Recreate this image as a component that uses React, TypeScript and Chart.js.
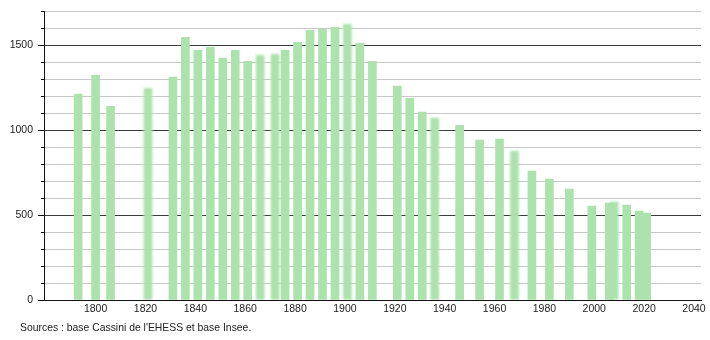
import React, { useEffect, useRef } from "react";
import { Chart, registerables } from "chart.js";

Chart.register(...registerables);

const years = [
  1793, 1800, 1806, 1821, 1831, 1836, 1841, 1846, 1851, 1856, 1861, 1866, 1872,
  1876, 1881, 1886, 1891, 1896, 1901, 1906, 1911, 1921, 1926, 1931, 1936, 1946,
  1954, 1962, 1968, 1975, 1982, 1990, 1999, 2006, 2008, 2013, 2018, 2021,
];
const population = [
  1212, 1323, 1141, 1247, 1312, 1547, 1470, 1488, 1424, 1470, 1406, 1441, 1447,
  1470, 1518, 1588, 1594, 1606, 1624, 1512, 1406, 1259, 1188, 1106, 1071, 1029,
  941, 947, 876, 759, 712, 653, 553, 570, 576, 559, 524, 512,
];
const softYears = [1821, 1866, 1872, 1901, 1936, 1968, 2008];
const xTickValues = [1800, 1820, 1840, 1860, 1880, 1900, 1920, 1940, 1960, 1980, 2000, 2020, 2040];
const yLabelValues = [0, 500, 1000, 1500];
const sourceText = "Sources : base Cassini de l'EHESS et base Insee.";

const BAR = "rgb(172,226,172)";
const FONT = "'Liberation Sans', Arial, sans-serif";

export default function App() {
  const ref = useRef<HTMLCanvasElement | null>(null);

  useEffect(() => {
    if (!ref.current) return;
    const sharp = years
      .map((y, i) => ({ x: y, y: population[i] }))
      .filter((p) => !softYears.includes(p.x));
    const soft = years
      .map((y, i) => ({ x: y, y: population[i] }))
      .filter((p) => softYears.includes(p.x));

    const blurPlugin = {
      id: "blurSoft",
      beforeDatasetDraw(chart: any, args: any) {
        if (args.index === 1) {
          chart.ctx.save();
          chart.ctx.filter = "blur(1.3px)";
        }
      },
      afterDatasetDraw(chart: any, args: any) {
        if (args.index === 1) {
          chart.ctx.restore();
        }
      },
    };

    const tickPlugin = {
      id: "yTicks",
      afterDraw(chart: any) {
        const ctx = chart.ctx;
        const ys = chart.scales.y;
        const left = chart.chartArea.left;
        ctx.save();
        ctx.strokeStyle = "#111";
        ctx.lineWidth = 1;
        for (let v = 0; v <= 1700; v += 100) {
          const py = Math.round(ys.getPixelForValue(v)) + 0.5;
          const len = v % 500 === 0 ? 6 : 3;
          ctx.beginPath();
          ctx.moveTo(left - len, py);
          ctx.lineTo(left + 0.5, py);
          ctx.stroke();
        }
        ctx.restore();
      },
    };

    const chart = new Chart(ref.current, {
      type: "bar",
      data: {
        datasets: [
          { data: sharp, backgroundColor: BAR, barThickness: 8, grouped: false } as any,
          { data: soft, backgroundColor: BAR, barThickness: 8, grouped: false } as any,
        ],
      },
      options: {
        responsive: false,
        animation: false,
        layout: { padding: { top: 10, right: 9, left: 0, bottom: 0 } },
        plugins: { legend: { display: false }, tooltip: { enabled: false } },
        scales: {
          x: {
            type: "linear",
            offset: false,
            min: 1779.3,
            max: 2042.8,
            afterBuildTicks: (scale: any) => {
              scale.ticks = xTickValues.map((v) => ({ value: v }));
            },
            afterFit: (scale: any) => {
              scale.height = 40;
            },
            grid: { display: false, drawTicks: false, offset: false },
            border: { display: true, color: "#111", width: 1 },
            ticks: {
              autoSkip: false,
              maxRotation: 0,
              padding: 3,
              color: "#222",
              font: { family: FONT, size: 10.5 },
              callback: (v: any) => String(v),
            },
          },
          y: {
            min: 0,
            max: 1700,
            afterFit: (scale: any) => {
              scale.width = 44;
            },
            grid: {
              color: (c: any) => (c.tick && c.tick.value % 500 === 0 ? "#3c3c3c" : "#c8c8c8"),
              tickColor: "rgba(0,0,0,0)",
              tickLength: 6,
            },
            border: { display: true, color: "#111", width: 1 },
            ticks: {
              stepSize: 100,
              autoSkip: false,
              padding: 5,
              color: "#222",
              font: { family: FONT, size: 10.5 },
              callback: (v: any) => (yLabelValues.includes(Number(v)) ? String(v) : ""),
            },
          },
        },
      },
      plugins: [blurPlugin, tickPlugin],
    });
    return () => chart.destroy();
  }, []);

  return (
    <div style={{ position: "absolute", left: 0, top: 0, width: 710, height: 340, background: "#fff" }}>
      <canvas ref={ref} width={710} height={340} style={{ display: "block" }} />
      <div
        style={{
          position: "absolute",
          left: 20,
          top: 322,
          fontFamily: FONT,
          fontSize: 10.4,
          color: "#222",
          whiteSpace: "nowrap",
        }}
      >
        {sourceText}
      </div>
    </div>
  );
}
